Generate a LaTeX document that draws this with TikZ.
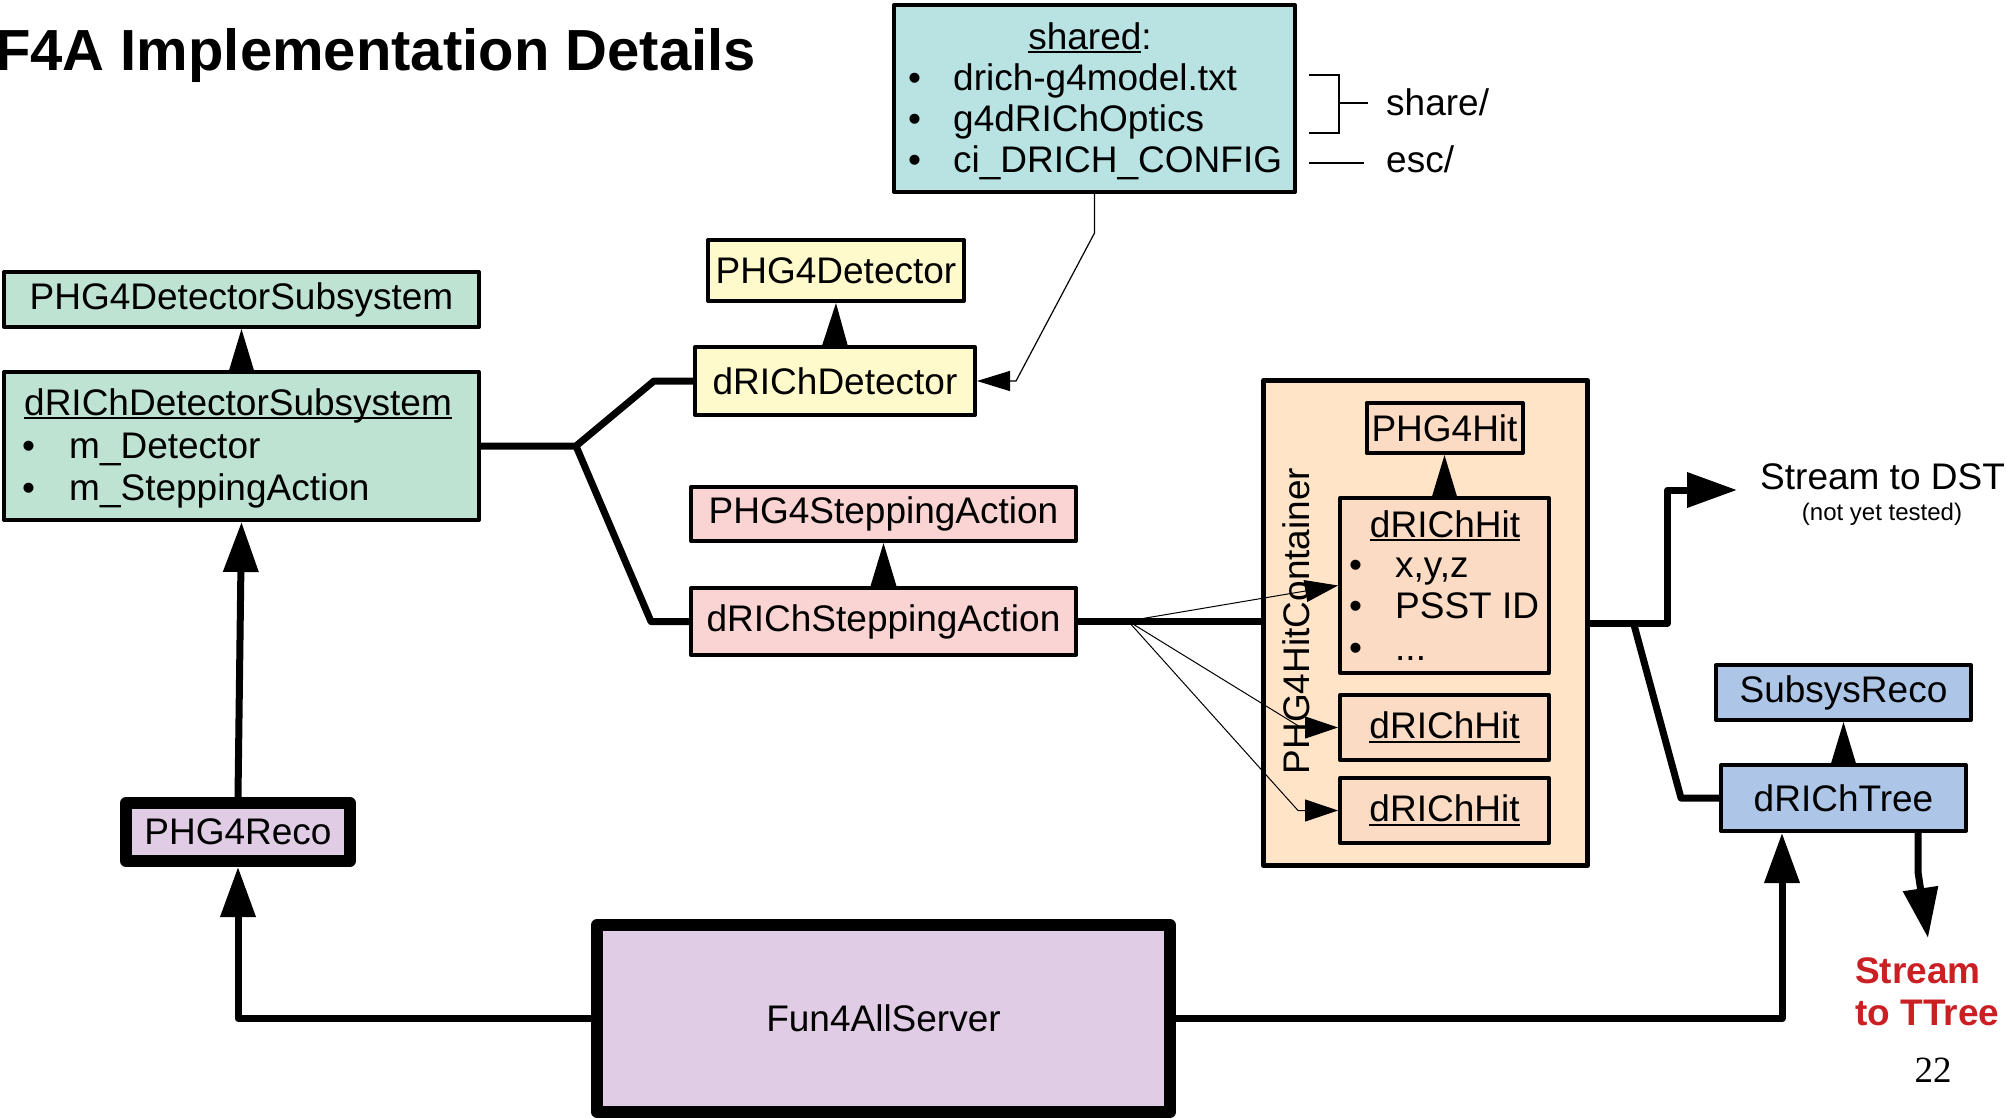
\documentclass[tikz,border=0pt]{standalone}
\usepackage{fontspec}
\setmainfont{Liberation Sans}
\newfontfamily\serifnum{Liberation Serif}
\usetikzlibrary{arrows.meta,calc}
\definecolor{sharedc}{RGB}{185,227,227}
\definecolor{greenc}{RGB}{191,227,211}
\definecolor{yellowc}{RGB}{255,250,204}
\definecolor{pinkc}{RGB}{250,212,210}
\definecolor{peachc}{RGB}{255,228,200}
\definecolor{hitc}{RGB}{252,219,196}
\definecolor{purplec}{RGB}{224,204,229}
\definecolor{bluec}{RGB}{173,198,232}
\definecolor{redc}{RGB}{202,32,36}
\newcommand\fsmain{\fontsize{37}{44}\selectfont}
\newcommand\ulx[1]{\setbox0\hbox{#1}\rlap{\rule[-4pt]{\wd0}{2pt}}#1}
\tikzset{
  box/.style={draw, line width=4pt, line join=round, inner sep=0pt, font=\fsmain},
  txt/.style={inner sep=0pt, font=\fsmain},
  conn/.style={line width=7pt, line join=round},
  inh/.style={line width=2pt, -{Triangle[width=26pt,length=44pt]}},
  big/.style={-{Triangle[width=34pt,length=50pt]}},
  thinarr/.style={line width=1pt, -{Triangle[width=22pt,length=33pt]}},
}
\begin{document}
\begin{tikzpicture}[x=1pt,y=-1pt]
\fill[white] (0,0) rectangle (2006,1119);
\useasboundingbox (0,0) rectangle (2006,1119);

% title
\node[inner sep=0pt, anchor=base west, font=\fontsize{58}{66}\selectfont\bfseries] (title) at (-5,70) {F4A Implementation Details};

% shared box
\node[box, fill=sharedc, minimum width=401pt, minimum height=187pt] (shared) at (1094.5,98.5) {};
\node[txt, anchor=base] (sharedt) at (1090,49) {\ulx{shared}:};
\node[txt, anchor=base west] (s1) at (908,90) {\makebox[45pt][l]{•}drich-g4model.txt};
\node[txt, anchor=base west] (s2) at (908,131) {\makebox[45pt][l]{•}g4dRIChOptics};
\node[txt, anchor=base west] (s3) at (908,172) {\makebox[45pt][l]{•}ci\_DRICH\_CONFIG};
\draw[line width=2.5pt] (1309,75) -- (1339,75) -- (1339,133) -- (1309,133);
\draw[line width=2.5pt] (1339,103) -- (1368,103);
\draw[line width=2pt] (1309,163) -- (1364,163);
\node[txt, anchor=base west] (share) at (1386,115) {share/};
\node[txt, anchor=base west] (esc) at (1386,172) {esc/};

% subsystem
\node[box, fill=greenc, minimum width=475pt, minimum height=55pt] (psub) at (241.5,299.5) {PHG4DetectorSubsystem};
\node[box, fill=greenc, minimum width=475pt, minimum height=148pt] (dsub) at (241.5,446) {};
\node[txt, anchor=base west] (dsubt) at (24,415) {\ulx{dRIChDetectorSubsystem}};
\node[txt, anchor=base west] (dsub1) at (22,458) {\makebox[47pt][l]{•}m\_Detector};
\node[txt, anchor=base west] (dsub2) at (22,500) {\makebox[47pt][l]{•}m\_SteppingAction};

% detector / stepping
\node[box, fill=yellowc, minimum width=256pt, minimum height=61pt] (pdet) at (836,270.5) {PHG4Detector};
\node[box, fill=yellowc, minimum width=280pt, minimum height=68pt] (ddet) at (835,381) {dRIChDetector};
\node[box, fill=pinkc, minimum width=385pt, minimum height=54pt] (pstep) at (883.5,514) {PHG4SteppingAction};
\node[box, fill=pinkc, minimum width=385pt, minimum height=67pt] (dstep) at (883.5,621.5) {dRIChSteppingAction};

% reco / server
\node[box, line width=12pt, fill=purplec, minimum width=224pt, minimum height=58pt] (reco) at (238,832) {PHG4Reco};
\node[box, line width=12pt, fill=purplec, minimum width=573pt, minimum height=187pt] (f4a) at (883.5,1018.5) {Fun4AllServer};

% container
\node[box, line width=5pt, fill=peachc, minimum width=324pt, minimum height=485pt] (cont) at (1425.5,623) {};
\node[txt, rotate=90] (contt) at (1296,621) {PHG4HitContainer};
\node[box, fill=hitc, minimum width=156pt, minimum height=50pt] (phit) at (1444.5,428) {PHG4Hit};
\node[box, fill=hitc, minimum width=209pt, minimum height=175pt] (hit1) at (1444.5,585.5) {};
\node[txt, anchor=base] (hit1t) at (1445,537) {\ulx{dRIChHit}};
\node[txt, anchor=base west] (hit1a) at (1349,577) {\makebox[46pt][l]{•}x,y,z};
\node[txt, anchor=base west] (hit1b) at (1349,618) {\makebox[46pt][l]{•}PSST ID};
\node[txt, anchor=base west] (hit1c) at (1349,660) {\makebox[46pt][l]{•}...};
\node[box, fill=hitc, minimum width=209pt, minimum height=65pt] (hit2) at (1444.5,727.5) {\ulx{dRIChHit}};
\node[box, fill=hitc, minimum width=209pt, minimum height=65pt] (hit3) at (1444.5,810.5) {\ulx{dRIChHit}};

% tree
\node[box, fill=bluec, minimum width=255pt, minimum height=55pt] (sreco) at (1843.5,692.5) {SubsysReco};
\node[box, fill=bluec, minimum width=245pt, minimum height=66pt] (tree) at (1843.5,798) {dRIChTree};

% texts right
\node[txt, anchor=base west] (dsttxt) at (1760,489) {Stream to DST};
\node[inner sep=0pt, anchor=base, font=\fontsize{24}{28}\selectfont] (dstnote) at (1882,520) {(not yet tested)};
\node[inner sep=0pt, anchor=base west, text=redc, font=\fontsize{37}{42}\selectfont\bfseries] (ttreetxt1) at (1855,983) {Stream};
\node[inner sep=0pt, anchor=base west, text=redc, font=\fontsize{37}{42}\selectfont\bfseries] (ttreetxt2) at (1855,1025) {to TTree};
\node[inner sep=0pt, anchor=base, font=\fontsize{37}{42}\selectfont\serifnum] (pagenum) at (1933,1082) {22};

% inheritance arrows
\draw[inh] (dsub.north) -- (psub.south);
\draw[inh] (ddet.north) -- (pdet.south);
\draw[inh] (dstep.north) -- (pstep.south);
\draw[inh] (hit1.north) -- (phit.south);
\draw[inh] (tree.north) -- (sreco.south);

% branch connectors
\coordinate (br) at (576,446);
\draw[conn] (dsub.east) -- (br) -- (654,381) -- (ddet.west);
\draw[conn] (br) -- (651,621.5) -- (dstep.west);
\draw[conn] (dstep.east) -- (dstep.east -| cont.west);

% reco arrows
\draw[conn, big] (reco.north) -- (dsub.south);
\draw[conn, big] (f4a.west) -| (reco.south);
\coordinate (treein) at ($(tree.south)+(-61.5,0)$);
\draw[conn, big] (f4a.east) -| (treein);

% tree out
\coordinate (treeout) at ($(tree.south)+(74.5,0)$);
\coordinate (ttree) at (1928,938);
\draw[conn, big] (treeout) -- (1918,872) -- (ttree);

% container out
\coordinate (dstarrow) at (1737,490);
\draw[conn, big] (cont.east) -- ++(77.5,0) |- (dstarrow);
\draw[conn] ($(cont.east)+(43.5,0)$) -- (1681,798) -- (tree.west);

% thin fan arrows
\coordinate (fan) at (1128,621);
\draw[thinarr] (fan) -- (hit1.west);
\draw[thinarr] (fan) -- ($(hit2.west)+(-37,0)$) -- (hit2.west);
\draw[thinarr] (fan) -- ($(hit3.west)+(-40,0)$) -- (hit3.west);

% shared to detector
\draw[line width=1.2pt, -{Triangle[width=20pt,length=33pt]}] (shared.south) -- ++(0,39) -- (1016,381) -- (ddet.east);
\end{tikzpicture}
\end{document}
